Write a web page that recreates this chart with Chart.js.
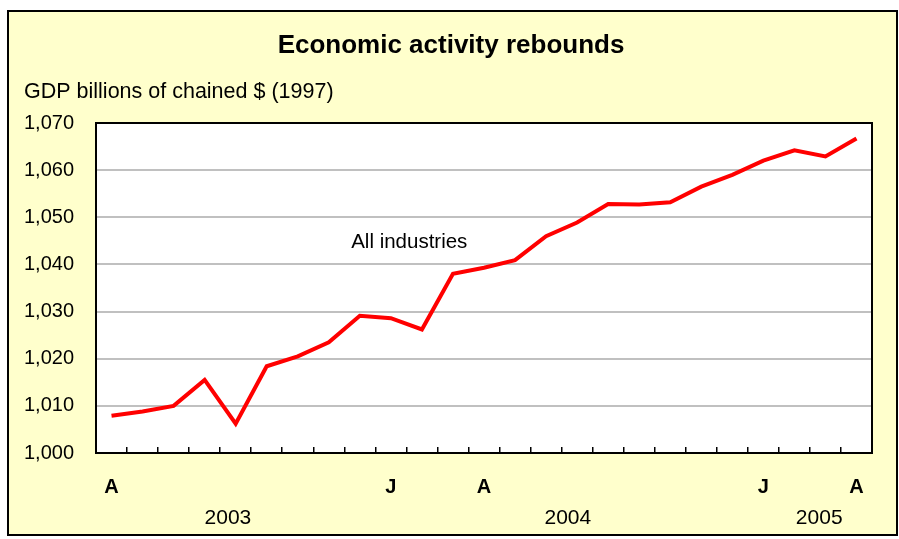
<!DOCTYPE html>
<html>
<head>
<meta charset="utf-8">
<title>Economic activity rebounds</title>
<script src="https://cdn.jsdelivr.net/npm/chart.js@4.4.1/dist/chart.umd.min.js"></script>
<style>
  html, body { margin: 0; padding: 0; background: #fff; }
  #wrap { width: 899px; height: 539px; position: relative; }
</style>
</head>
<body>
<div id="wrap"><canvas id="gdpChart"></canvas></div>
<script>
// monthly, April 2003 to April 2005
const months = [
  '2003-04', '2003-05', '2003-06', '2003-07', '2003-08', '2003-09', '2003-10', '2003-11', '2003-12',
  '2004-01', '2004-02', '2004-03', '2004-04', '2004-05', '2004-06', '2004-07', '2004-08', '2004-09',
  '2004-10', '2004-11', '2004-12', '2005-01', '2005-02', '2005-03', '2005-04'
];
const tickLabels = [
  'A', '', '', '', '', '', '', '', '',
  'J', '', '', 'A', '', '', '', '', '',
  '', '', '', 'J', '', '', 'A'
];
const allIndustries = [
  1007.9, 1008.8, 1010.0, 1015.5, 1006.2, 1018.4, 1020.5, 1023.5, 1029.1,
  1028.6, 1026.2, 1038.0, 1039.3, 1040.9, 1046.0, 1048.9, 1052.8, 1052.7,
  1053.2, 1056.5, 1059.0, 1062.0, 1064.2, 1062.9, 1066.7
];
const years = ['2003', '2004', '2005'];
const yTicks = [1000, 1010, 1020, 1030, 1040, 1050, 1060, 1070];

const FONT = '"Liberation Sans", Arial, sans-serif';

// where the year labels and the series label sit (in category index / value units)
const yearAt = [3.75, 14.7, 22.8];
const seriesLabelAt = { x: 7.72, y: 1044.7 };

const framePlugin = {
  id: 'frame',
  beforeDraw(chart) {
    const { ctx, chartArea: a } = chart;
    ctx.save();
    ctx.fillStyle = '#ffffff';
    ctx.fillRect(0, 0, chart.width, chart.height);
    ctx.fillStyle = '#ffffcc';
    ctx.fillRect(8, 11, 889, 524);
    ctx.lineWidth = 2;
    ctx.strokeStyle = '#000';
    ctx.strokeRect(8, 11, 889, 524);
    ctx.fillStyle = '#ffffff';
    ctx.fillRect(a.left, a.top, a.right - a.left, a.bottom - a.top);
    ctx.restore();
  },
  afterDraw(chart) {
    const { ctx, chartArea: a } = chart;
    const xs = chart.scales.x, ys = chart.scales.y;
    ctx.save();
    ctx.lineWidth = 2;
    ctx.strokeStyle = '#000';
    ctx.strokeRect(a.left, a.top, a.right - a.left, a.bottom - a.top);

    ctx.fillStyle = '#000';
    ctx.textBaseline = 'alphabetic';
    ctx.textAlign = 'center';
    ctx.font = 'bold 26px ' + FONT;
    ctx.fillText('Economic activity rebounds', 451, 53);

    ctx.textAlign = 'left';
    ctx.font = '21.5px ' + FONT;
    ctx.fillText('GDP billions of chained $ (1997)', 24, 98);

    ctx.font = '20.5px ' + FONT;
    ctx.textBaseline = 'middle';
    ctx.fillText('All industries', xs.getPixelForValue(seriesLabelAt.x), ys.getPixelForValue(seriesLabelAt.y));

    ctx.textAlign = 'center';
    ctx.font = '21px ' + FONT;
    years.forEach((yr, i) => {
      ctx.fillText(yr, xs.getPixelForValue(yearAt[i]), 518);
    });
    ctx.restore();
  }
};

const ctx = document.getElementById('gdpChart').getContext('2d');
new Chart(ctx, {
  type: 'line',
  data: {
    labels: months,
    datasets: [{
      label: 'All industries',
      data: allIndustries,
      borderColor: '#ff0000',
      borderWidth: 4,
      pointRadius: 0,
      tension: 0,
      fill: false
    }]
  },
  options: {
    responsive: true,
    maintainAspectRatio: false,
    animation: false,
    layout: { padding: { top: 123, right: 27, bottom: 0, left: 0 } },
    scales: {
      x: {
        offset: true,
        grid: { offset: true, drawOnChartArea: false, drawTicks: true, tickLength: -6, color: '#000', lineWidth: 1.5 },
        border: { display: true, color: '#000', width: 2 },
        ticks: {
          autoSkip: false,
          maxRotation: 0,
          padding: 28,
          color: '#000',
          font: { family: FONT, size: 20, weight: 'bold' },
          callback: (val, i) => tickLabels[i]
        },
        afterFit: scale => { scale.height = 86; }
      },
      y: {
        min: 1000,
        max: 1070,
        afterBuildTicks: scale => { scale.ticks = yTicks.map(v => ({ value: v })); },
        grid: { color: '#c0c0c0', lineWidth: 2, drawTicks: false },
        border: { display: true, color: '#000', width: 2 },
        ticks: {
          padding: 22,
          color: '#000',
          font: { family: FONT, size: 20 },
          callback: v => v.toLocaleString('en-US')
        },
        afterFit: scale => { scale.width = 96; }
      }
    },
    plugins: {
      legend: { display: false },
      tooltip: { enabled: false },
      title: { display: false }
    }
  },
  plugins: [framePlugin]
});
</script>
</body>
</html>
